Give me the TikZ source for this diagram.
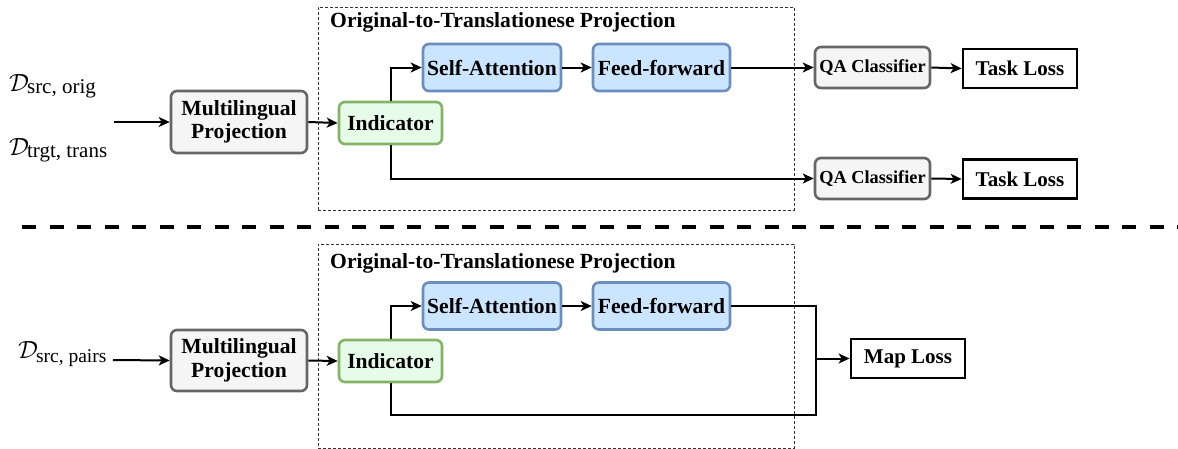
\documentclass[tikz,border=0pt]{standalone}
\usepackage{fontspec}
\setmainfont{Liberation Serif}
\usetikzlibrary{arrows.meta}
\definecolor{grayfill}{HTML}{F5F5F5}
\definecolor{graystroke}{HTML}{666666}
\definecolor{greenfill}{HTML}{E6FCE8}
\definecolor{greenstroke}{HTML}{82B366}
\definecolor{bluefill}{HTML}{CCE5FF}
\definecolor{bluestroke}{HTML}{6C8EBF}
\tikzset{
  box/.style={rounded corners=6pt,line width=2.6pt,inner sep=0pt,align=center,font=\fontsize{21.6}{23.5}\selectfont\bfseries},
  graybox/.style={box,draw=graystroke,fill=grayfill},
  greenbox/.style={box,draw=greenstroke,fill=greenfill},
  bluebox/.style={box,draw=bluestroke,fill=bluefill},
  qabox/.style={box,draw=graystroke,fill=grayfill,font=\fontsize{18.3}{20}\selectfont\bfseries},
  lossbox/.style={draw=black,line width=2.8pt,fill=white,inner sep=0pt,font=\fontsize{21}{22}\selectfont\bfseries},
  conn/.style={line width=2pt,-{Stealth[length=11pt,width=10pt,inset=3pt]}},
  line/.style={line width=2pt},
  projbox/.style={draw=black!80,line width=0.9pt,dash pattern=on 3pt off 2pt},
  title/.style={anchor=west,inner sep=0pt,font=\fontsize{21.6}{23}\selectfont\bfseries},
  dlabel/.style={anchor=base west,inner sep=0pt},
}
% #1 subscript size, #2 lowering, #3 subscript text
\newcommand{\dsym}[3]{{\fontsize{32}{32}\selectfont$\mathcal{D}$}\kern-2pt{\fontsize{#1}{#1}\selectfont\raisebox{-#2}{#3}}}
\begin{document}
\begin{tikzpicture}[x=1pt,y=-1pt]
\useasboundingbox (0,0) rectangle (1178,448);
% ---------- top ----------
\node[projbox,minimum width=476pt,minimum height=203pt,anchor=north west] (projA) at (318,6.5) {};
\node[title] (titleA) at (330,22) {Original-to-Translationese Projection};
\node[dlabel] (dso) at (9,91) {\dsym{21}{2pt}{src, orig}};
\node[dlabel] (dtt) at (9,155) {\dsym{21}{2pt}{trgt, trans}};
\coordinate (inA) at (114,122);
\node[graybox,minimum width=136pt,minimum height=62pt] (mpA) at (239,122) {Multilingual\\Projection};
\node[greenbox,minimum width=103pt,minimum height=42pt] (indA) at (390.5,123) {Indicator};
\node[bluebox,minimum width=138pt,minimum height=47pt] (saA) at (492,67.5) {Self-Attention};
\node[bluebox,minimum width=137pt,minimum height=47pt] (ffA) at (661.5,67.5) {Feed-forward};
\node[qabox,minimum width=115pt,minimum height=41pt] (qa1) at (872.5,67.5) {QA Classifier};
\node[lossbox,minimum width=114pt,minimum height=39pt] (tl1) at (1020,68.5) {Task Loss};
\node[qabox,minimum width=115pt,minimum height=41pt] (qa2) at (872.5,178.5) {QA Classifier};
\node[lossbox,minimum width=114pt,minimum height=39pt] (tl2) at (1020,179) {Task Loss};
\draw[conn] (inA) -- (mpA.west);
\draw[conn] (mpA.east) -- (indA.west);
\draw[conn] (indA.north) |- (saA.west);
\draw[conn] (saA.east) -- (ffA.west);
\draw[conn] (ffA.east) -- (qa1.west);
\draw[conn] (qa1.east) -- (tl1.west);
\draw[conn] (indA.south) |- (qa2.west);
\draw[conn] (qa2.east) -- (tl2.west);
% ---------- divider ----------
\coordinate (divL) at (22,227);
\coordinate (divR) at (1178,227);
\draw[line width=3.6pt,dash pattern=on 14pt off 13.5pt] (divL) -- (divR);
% ---------- bottom ----------
\node[projbox,minimum width=476pt,minimum height=204pt,anchor=north west] (projB) at (318,243.5) {};
\node[title] (titleB) at (330,263) {Original-to-Translationese Projection};
\node[dlabel] (dsp) at (18,358) {\dsym{19.5}{4pt}{src, pairs}};
\coordinate (inB) at (113,360);
\node[graybox,minimum width=136pt,minimum height=61pt] (mpB) at (239,360.5) {Multilingual\\Projection};
\node[greenbox,minimum width=103pt,minimum height=42pt] (indB) at (390.5,361) {Indicator};
\node[bluebox,minimum width=138pt,minimum height=47pt] (saB) at (492,306) {Self-Attention};
\node[bluebox,minimum width=137pt,minimum height=47pt] (ffB) at (661.5,306) {Feed-forward};
\node[lossbox,minimum width=114pt,minimum height=39pt] (ml) at (908,358.5) {Map Loss};
\coordinate (joinT) at (816,306);
\coordinate (joinB) at (816,415);
\coordinate (joinM) at (816,358.5);
\draw[conn] (inB) -- (mpB.west);
\draw[conn] (mpB.east) -- (indB.west);
\draw[conn] (indB.north) |- (saB.west);
\draw[conn] (saB.east) -- (ffB.west);
\draw[line] (ffB.east) -- (joinT) -- (joinB) -| (indB.south);
\draw[conn] (joinM) -- (ml.west);
\end{tikzpicture}
\end{document}
